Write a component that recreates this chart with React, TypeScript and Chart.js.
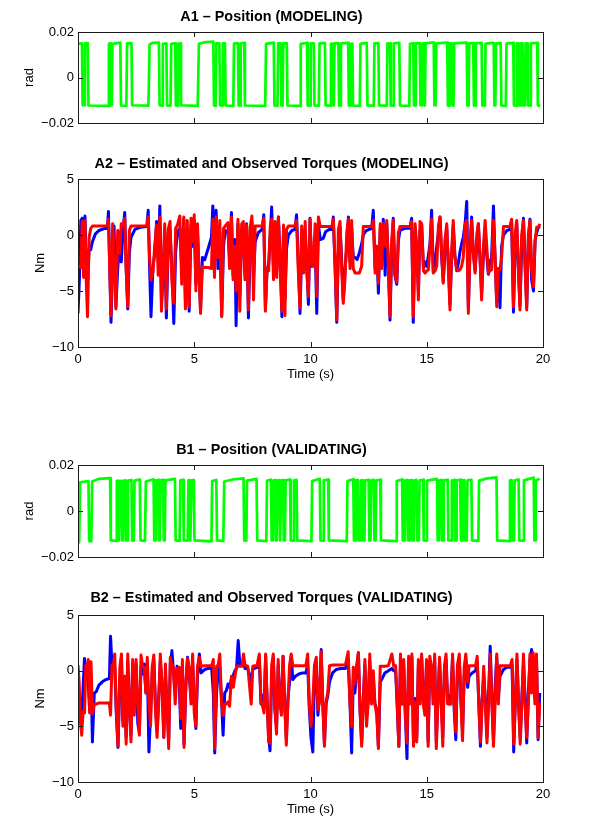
import React, { useEffect, useRef } from 'react';
import { Chart, registerables } from 'chart.js';

Chart.register(...registerables);

const FONT = '"Liberation Sans", Arial, Helvetica, sans-serif';

const TITLES = [
  'A1 \u2013 Position (MODELING)',
  'A2 \u2013 Estimated and Observed Torques (MODELING)',
  'B1 \u2013 Position (VALIDATING)',
  'B2 \u2013 Estimated and Observed Torques (VALIDATING)',
];
const X_TITLE = 'Time (s)';
const POS_UNIT = 'rad';
const TORQUE_UNIT = 'Nm';

// [time (s), position (rad)]
const A1_POSITION: number[][] = [
  [0.00,0.0148],[0.17,0.0150],[0.20,-0.0122],[0.27,-0.0122],[0.30,0.0150],[0.42,0.0151],[0.45,-0.0123],
  [1.30,-0.0125],[1.33,0.0148],[1.38,0.0150],[1.41,-0.0122],[1.45,-0.0123],[1.48,0.0148],[1.82,0.0153],[1.85,-0.0123],
  [2.08,-0.0125],[2.11,0.0150],[2.30,0.0151],[2.33,-0.0122],
  [3.03,-0.0124],[3.08,0.0145],[3.20,0.0152],[3.48,0.0153],[3.51,-0.0122],
  [3.62,-0.0124],[3.65,0.0148],[3.80,0.0150],[3.83,-0.0123],
  [3.98,-0.0124],[4.01,0.0148],[4.18,0.0150],[4.21,-0.0123],
  [4.27,-0.0124],[4.30,0.0148],[4.40,0.0150],[4.43,-0.0122],
  [5.15,-0.0125],[5.20,0.0148],[5.50,0.0156],[5.82,0.0158],[5.85,-0.0123],
  [5.92,-0.0124],[5.95,0.0150],[6.08,0.0150],[6.11,-0.0122],
  [6.20,-0.0124],[6.23,0.0150],[6.32,0.0150],[6.35,-0.0123],
  [6.68,-0.0125],[6.71,0.0149],[6.88,0.0151],[6.91,-0.0123],
  [6.97,-0.0124],[7.00,0.0150],[7.15,0.0152],[7.18,-0.0123],
  [8.05,-0.0125],[8.09,0.0148],[8.42,0.0153],[8.45,-0.0123],
  [8.58,-0.0125],[8.61,0.0150],[8.72,0.0150],[8.75,-0.0123],
  [8.80,-0.0124],[8.83,0.0150],[8.98,0.0151],[9.01,-0.0123],
  [9.55,-0.0125],[9.58,0.0148],[9.85,0.0152],[9.88,-0.0123],
  [9.98,-0.0124],[10.01,0.0150],[10.14,0.0150],[10.17,-0.0123],
  [10.36,-0.0124],[10.39,0.0150],[10.62,0.0152],[10.65,-0.0123],
  [10.85,-0.0124],[10.88,0.0148],[10.92,0.0149],[10.95,-0.0122],
  [11.00,-0.0123],[11.03,0.0150],[11.20,0.0151],[11.23,-0.0123],
  [11.28,-0.0124],[11.31,0.0150],[11.62,0.0152],[11.65,-0.0123],
  [11.72,-0.0124],[11.75,0.0148],[11.80,0.0149],[11.83,-0.0123],
  [12.12,-0.0125],[12.15,0.0148],[12.42,0.0152],[12.45,-0.0123],
  [12.72,-0.0124],[12.75,0.0150],[12.92,0.0151],[12.95,-0.0123],
  [13.28,-0.0124],[13.31,0.0150],[13.42,0.0150],[13.45,-0.0123],
  [13.55,-0.0124],[13.58,0.0150],[13.82,0.0152],[13.85,-0.0123],
  [14.25,-0.0125],[14.28,0.0148],[14.42,0.0150],[14.45,-0.0123],
  [14.50,-0.0123],[14.53,0.0150],[14.70,0.0151],[14.73,-0.0122],
  [14.78,-0.0123],[14.81,0.0149],[14.85,0.0150],[14.88,-0.0122],
  [14.92,-0.0123],[14.95,0.0150],[15.30,0.0154],[15.33,-0.0122],
  [15.38,-0.0123],[15.41,0.0150],[15.88,0.0153],[15.91,-0.0123],
  [15.96,-0.0124],[15.99,0.0150],[16.08,0.0150],[16.11,-0.0123],
  [16.15,-0.0124],[16.18,0.0150],[16.72,0.0153],[16.75,-0.0123],
  [16.80,-0.0124],[16.83,0.0150],[17.00,0.0151],[17.03,-0.0123],
  [17.08,-0.0124],[17.11,0.0150],[17.36,0.0152],[17.39,-0.0123],
  [17.50,-0.0124],[17.53,0.0149],[17.88,0.0152],[17.91,-0.0123],
  [17.95,-0.0123],[17.98,0.0150],[18.18,0.0151],[18.21,-0.0123],
  [18.40,-0.0125],[18.43,0.0149],[18.72,0.0152],[18.75,-0.0123],
  [18.85,-0.0124],[18.88,0.0150],[18.95,0.0150],[18.98,-0.0123],
  [19.02,-0.0123],[19.05,0.0150],[19.12,0.0150],[19.15,-0.0123],
  [19.22,-0.0123],[19.25,0.0150],[19.32,0.0150],[19.35,-0.0123],
  [19.45,-0.0124],[19.48,0.0150],[19.75,0.0152],[19.78,-0.0123],
  [19.88,-0.0124],
];

// [time (s), observed torque (red), estimated torque (blue)] in Nm
const A2_TORQUE: number[][] = [
  [0.00,-2.8,-7.0],[0.06,-2.8,-4.0],[0.12,-2.9,1.3],[0.18,1.2,1.5],[0.24,-3.8,-2.8],[0.30,1.3,1.7],
  [0.36,-4.5,-3.0],[0.41,-7.3,-4.2],[0.48,-0.2,-1.2],[0.55,0.6,-1.3],[0.62,0.8,-0.6],[0.75,0.8,0.1],
  [0.90,0.8,0.4],[1.10,0.8,0.55],[1.26,0.8,0.6],[1.31,1.4,2.1],[1.36,-2.5,-2.5],[1.42,-7.2,-7.8],
  [1.49,1.0,-2.6],[1.55,-1.8,0.8],[1.63,-6.6,-6.4],[1.71,0.4,-3.0],[1.79,-1.6,-0.6],[1.86,1.0,-2.4],
  [1.94,0.9,0.5],[2.01,1.5,2.0],[2.07,-3.0,-2.8],[2.14,-6.4,-6.6],[2.21,0.4,-1.6],[2.28,0.8,-0.2],
  [2.45,0.8,0.5],[2.70,0.8,0.7],[2.96,0.8,0.75],[3.02,1.6,2.2],[3.08,-2.0,-3.0],[3.14,-4.0,-7.3],
  [3.22,-3.4,-3.0],[3.30,-1.0,-1.6],[3.38,0.9,1.2],[3.45,-3.6,-2.2],[3.52,1.6,2.6],[3.59,-6.8,-6.0],
  [3.66,-3.0,-4.0],[3.73,1.0,0.2],[3.80,-6.6,-7.4],[3.88,0.5,-1.0],[3.96,1.2,0.2],[4.04,-4.2,-3.0],
  [4.12,-6.1,-7.9],[4.20,0.6,-1.5],[4.28,0.9,0.3],[4.38,1.7,0.6],[4.46,-4.4,-2.8],[4.55,1.6,1.4],
  [4.62,-6.6,-6.0],[4.70,1.3,0.0],[4.78,-6.4,-6.8],[4.86,1.5,0.9],[4.93,-0.6,-1.0],[5.00,1.8,1.2],
  [5.07,-5.0,-4.4],[5.14,1.0,0.2],[5.20,-3.0,-3.2],[5.27,-7.0,-6.6],[5.35,-2.8,-2.0],[5.45,-2.9,-2.2],
  [5.60,-2.9,-1.2],[5.74,-3.0,-0.2],[5.80,1.4,2.6],[5.87,-3.8,-1.8],[5.94,1.6,2.2],[6.02,-2.0,-3.0],
  [6.10,1.3,0.2],[6.18,-7.3,-7.2],[6.26,0.6,-1.0],[6.33,0.8,0.4],[6.45,1.1,0.3],[6.52,-3.0,-2.2],
  [6.60,1.6,2.0],[6.67,-4.0,-3.6],[6.75,-1.0,-0.4],[6.80,-5.0,-8.1],[6.88,1.4,1.0],[6.96,-6.8,-5.4],
  [7.04,1.0,0.5],[7.11,1.2,0.2],[7.18,-4.0,-3.5],[7.25,0.9,1.0],[7.33,-6.7,-7.4],[7.40,0.6,-1.5],
  [7.48,1.7,1.2],[7.55,-5.8,-3.8],[7.62,0.8,-0.6],[7.75,0.8,0.2],[7.92,0.8,0.5],[7.99,1.5,1.8],
  [8.06,-6.8,-6.6],[8.13,-3.0,-3.2],[8.20,-3.2,-2.6],[8.27,0.8,0.0],[8.33,1.4,2.5],[8.41,-4.0,-3.0],
  [8.48,1.2,0.5],[8.55,-3.8,-3.2],[8.62,1.6,1.6],[8.70,-2.8,-2.4],[8.77,-6.8,-7.3],[8.84,0.9,0.2],
  [8.90,-7.2,-5.8],[8.97,0.5,-1.2],[9.05,0.8,0.0],[9.20,0.8,0.4],[9.33,0.8,0.5],[9.40,1.3,1.8],
  [9.47,-3.0,-2.0],[9.55,-6.5,-7.0],[9.62,0.8,-1.4],[9.70,-3.4,-2.8],[9.77,1.2,0.3],[9.84,-3.3,-2.6],
  [9.91,-5.5,-6.2],[9.98,1.4,1.5],[10.05,-2.6,-2.8],[10.12,-2.8,-1.8],[10.20,1.0,-1.0],[10.27,-5.5,-7.0],
  [10.34,1.6,0.9],[10.42,0.75,-0.4],[10.55,0.75,-0.3],[10.65,0.75,0.3],[10.80,0.75,0.5],[10.92,0.75,0.5],
  [10.98,1.4,1.6],[11.05,-2.0,-2.5],[11.13,-7.6,-7.8],[11.20,0.5,-1.5],[11.27,1.2,0.7],[11.34,-3.0,-2.2],
  [11.41,-6.1,-5.8],[11.48,-4.0,-3.3],[11.56,0.2,-1.0],[11.63,1.4,1.6],[11.70,-3.0,-2.4],[11.77,1.3,0.6],
  [11.84,-3.0,-2.0],[11.92,-3.4,-2.0],[12.00,-3.4,-2.2],[12.10,-3.4,-1.6],[12.20,-2.8,-0.8],[12.27,0.75,0.0],
  [12.40,0.75,0.4],[12.63,0.75,0.6],[12.70,1.3,2.2],[12.78,-3.4,-3.0],[12.85,-1.0,-1.0],[12.92,-4.3,-5.2],
  [13.00,1.0,0.5],[13.06,-3.0,-2.0],[13.13,1.0,1.4],[13.21,-1.0,-3.6],[13.28,1.3,1.0],[13.35,-3.0,-2.6],
  [13.42,-7.3,-7.6],[13.49,-0.5,-1.6],[13.56,1.3,1.5],[13.63,-3.5,-3.6],[13.71,-4.2,-4.4],[13.78,0.2,-0.5],
  [13.85,0.75,0.4],[14.05,0.75,0.6],[14.28,0.75,0.6],[14.35,1.2,1.5],[14.42,-7.3,-7.8],[14.50,1.0,0.3],
  [14.57,-1.0,-1.5],[14.64,-5.8,-5.0],[14.71,1.2,0.4],[14.78,1.0,1.0],[14.86,-3.2,-3.0],[14.93,-3.4,-2.4],
  [15.00,-3.2,-2.8],[15.07,-3.1,-1.8],[15.14,-1.0,-0.8],[15.21,1.4,2.2],[15.28,-3.4,-3.2],[15.36,-3.2,-2.4],
  [15.43,-2.8,-1.0],[15.50,0.8,0.2],[15.57,1.6,1.6],[15.64,-1.5,-2.0],[15.71,-4.3,-4.2],[15.78,-0.5,-1.6],
  [15.86,1.0,0.6],[15.93,-3.0,-2.5],[16.00,-6.7,-6.2],[16.07,-1.5,-2.0],[16.14,1.3,0.8],[16.21,-2.0,-1.8],
  [16.29,-3.1,-3.2],[16.36,-3.2,-2.5],[16.43,-3.1,-1.5],[16.50,-2.8,-0.8],[16.57,-2.0,-0.2],[16.65,1.0,1.0],
  [16.72,1.3,3.0],[16.79,-7.0,-6.6],[16.86,-1.0,-1.5],[16.93,1.3,1.6],[17.00,-1.5,-1.5],[17.08,-3.4,-3.2],
  [17.15,0.0,-1.0],[17.22,1.0,1.0],[17.29,-2.0,-2.0],[17.36,-5.8,-5.2],[17.44,-1.0,-1.6],[17.51,1.3,0.6],
  [17.58,-1.0,-1.8],[17.65,-3.4,-3.5],[17.72,-3.2,-2.4],[17.79,-3.1,-2.0],[17.87,1.3,2.6],[17.94,-2.0,-2.2],
  [18.01,-6.4,-6.0],[18.08,-3.0,-3.0],[18.15,-3.1,-6.5],[18.22,-2.0,-1.0],[18.30,0.75,0.0],[18.45,0.75,0.4],
  [18.58,0.75,0.5],[18.65,1.4,1.3],[18.73,-6.4,-6.9],[18.80,0.0,-1.0],[18.87,1.3,1.0],[18.94,-3.0,-3.0],
  [19.01,-6.7,-6.3],[19.08,0.0,-1.5],[19.16,1.3,1.5],[19.23,-3.0,-2.5],[19.30,-6.7,-6.4],[19.37,0.0,-0.5],
  [19.44,1.3,1.4],[19.51,-3.0,-4.0],[19.59,-4.6,-5.0],[19.66,-0.5,-0.5],[19.73,0.7,0.2],[19.80,0.7,0.7],
  [19.87,1.0,0.6],
];

// [time (s), position (rad)]
const B1_POSITION: number[][] = [
  [0.00,-0.0140],[0.05,-0.0135],[0.09,0.0125],[0.45,0.0130],[0.48,-0.0130],[0.57,-0.0132],[0.61,0.0128],[0.90,0.0140],[1.38,0.0143],[1.41,-0.0128],
  [1.64,-0.0130],[1.67,0.0130],[1.74,0.0132],[1.77,-0.0128],
  [1.80,-0.0128],[1.83,0.0130],[1.88,0.0132],[1.91,-0.0128],
  [1.95,-0.0128],[1.98,0.0132],[2.05,0.0133],[2.08,-0.0128],
  [2.12,-0.0128],[2.15,0.0132],[2.30,0.0135],[2.33,-0.0128],
  [2.40,-0.0129],[2.43,0.0132],[2.66,0.0137],[2.69,-0.0128],
  [2.88,-0.0130],[2.92,0.0128],[3.25,0.0138],[3.28,-0.0128],
  [3.32,-0.0128],[3.35,0.0133],[3.45,0.0135],[3.48,-0.0128],
  [3.52,-0.0128],[3.55,0.0133],[3.66,0.0135],[3.69,-0.0128],
  [3.73,-0.0128],[3.76,0.0133],[4.17,0.0140],[4.20,-0.0128],
  [4.37,-0.0130],[4.40,0.0133],[4.52,0.0135],[4.55,-0.0128],
  [4.72,-0.0129],[4.75,0.0133],[4.80,0.0134],[4.83,-0.0128],
  [4.86,-0.0128],[4.89,0.0133],[4.98,0.0135],[5.01,-0.0128],
  [5.74,-0.0132],[5.77,0.0130],[5.95,0.0135],[5.98,-0.0128],
  [6.25,-0.0130],[6.29,0.0128],[6.70,0.0138],[7.12,0.0142],[7.15,-0.0128],
  [7.24,-0.0129],[7.27,0.0132],[7.68,0.0140],[7.71,-0.0128],
  [8.10,-0.0131],[8.13,0.0132],[8.30,0.0136],[8.33,-0.0128],
  [8.38,-0.0128],[8.41,0.0133],[8.48,0.0134],[8.51,-0.0128],
  [8.55,-0.0128],[8.58,0.0133],[8.66,0.0134],[8.69,-0.0128],
  [8.72,-0.0128],[8.75,0.0133],[8.82,0.0134],[8.85,-0.0128],
  [8.90,-0.0128],[8.93,0.0133],[9.12,0.0137],[9.15,-0.0128],
  [9.26,-0.0129],[9.29,0.0133],[9.40,0.0135],[9.43,-0.0128],
  [10.04,-0.0131],[10.07,0.0130],[10.40,0.0140],[10.43,-0.0128],
  [10.54,-0.0129],[10.57,0.0133],[10.76,0.0137],[10.79,-0.0128],
  [11.56,-0.0131],[11.59,0.0130],[11.84,0.0138],[11.87,-0.0128],
  [11.92,-0.0128],[11.95,0.0133],[12.04,0.0135],[12.07,-0.0128],
  [12.14,-0.0128],[12.17,0.0133],[12.25,0.0134],[12.28,-0.0128],
  [12.32,-0.0128],[12.35,0.0133],[12.50,0.0136],[12.53,-0.0128],
  [12.58,-0.0128],[12.61,0.0133],[12.72,0.0135],[12.75,-0.0128],
  [12.80,-0.0128],[12.83,0.0133],[13.00,0.0136],[13.03,-0.0128],
  [13.68,-0.0131],[13.71,0.0130],[13.94,0.0137],[13.97,-0.0128],
  [14.05,-0.0128],[14.08,0.0133],[14.16,0.0134],[14.19,-0.0128],
  [14.24,-0.0128],[14.27,0.0133],[14.36,0.0135],[14.39,-0.0128],
  [14.44,-0.0128],[14.47,0.0133],[14.56,0.0135],[14.59,-0.0128],
  [14.66,-0.0128],[14.69,0.0133],[14.84,0.0136],[14.87,-0.0128],
  [14.98,-0.0129],[15.01,0.0132],[15.44,0.0140],[15.47,-0.0128],
  [15.52,-0.0128],[15.55,0.0133],[15.62,0.0134],[15.65,-0.0128],
  [15.70,-0.0128],[15.73,0.0133],[15.90,0.0136],[15.93,-0.0128],
  [16.05,-0.0128],[16.08,0.0133],[16.18,0.0135],[16.21,-0.0128],
  [16.26,-0.0128],[16.29,0.0133],[16.44,0.0136],[16.47,-0.0128],
  [16.52,-0.0128],[16.55,0.0133],[16.62,0.0134],[16.65,-0.0128],
  [16.72,-0.0128],[16.75,0.0133],[16.92,0.0136],[16.95,-0.0128],
  [17.22,-0.0130],[17.25,0.0132],[17.60,0.0142],[18.00,0.0146],[18.03,-0.0128],
  [18.55,-0.0131],[18.58,0.0133],[18.65,0.0134],[18.68,-0.0128],
  [18.75,-0.0128],[18.78,0.0133],[18.95,0.0137],[18.98,-0.0128],
  [19.15,-0.0129],[19.18,0.0133],[19.60,0.0145],[19.63,-0.0128],
  [19.66,-0.0128],[19.69,0.0133],[19.86,0.0140],
];

// [time (s), observed torque (red), estimated torque (blue)] in Nm
const B2_TORQUE: number[][] = [
  [0.00,0.5,-4.2],[0.05,-1.0,-3.0],[0.10,-4.5,-2.5],[0.16,-5.8,-4.5],[0.22,-3.6,-1.5],[0.28,-3.8,1.1],
  [0.34,0.5,0.0],[0.40,0.3,0.2],[0.44,1.0,-1.0],[0.50,-3.8,-3.5],[0.56,0.8,-0.5],[0.62,-3.9,-6.4],
  [0.70,-3.0,-2.0],[0.78,-3.0,-1.9],[0.90,-2.9,-1.3],[1.05,-2.9,-1.0],[1.20,-2.9,-0.8],[1.35,-2.9,-0.7],
  [1.40,-4.0,3.1],[1.46,0.5,0.5],[1.52,0.4,0.5],[1.58,1.5,0.3],[1.64,-3.0,-3.5],[1.72,-6.8,-6.9],
  [1.80,0.3,-1.0],[1.87,1.5,1.2],[1.93,-5.0,-4.5],[2.00,-0.5,-0.5],[2.07,-6.6,-6.0],[2.14,1.5,0.8],
  [2.21,-3.5,-3.5],[2.28,-6.4,-5.8],[2.35,1.0,0.5],[2.42,-4.0,-3.2],[2.50,1.0,0.6],[2.57,-3.2,-4.7],
  [2.64,-5.8,-5.6],[2.71,1.4,0.4],[2.78,0.4,-0.3],[2.85,0.3,0.6],[2.92,-2.0,-2.0],[2.98,1.2,0.6],
  [3.05,-3.0,-7.3],[3.12,-5.0,-4.0],[3.19,0.3,-0.3],[3.26,1.4,1.0],[3.33,-3.5,-3.0],[3.40,-6.0,-5.4],
  [3.47,-3.0,-2.5],[3.54,1.5,0.8],[3.62,-1.5,-1.5],[3.69,-6.0,-6.0],[3.76,0.6,-0.6],[3.83,-3.2,-3.0],
  [3.90,-7.0,-6.3],[3.97,1.2,0.6],[4.04,0.5,1.8],[4.10,0.3,0.0],[4.18,-3.0,-2.0],[4.26,0.2,0.4],
  [4.35,0.3,-1.0],[4.42,-4.3,-5.2],[4.49,1.0,0.3],[4.56,-6.9,-6.6],[4.64,-1.0,-1.4],[4.71,1.1,1.2],
  [4.78,0.3,-0.3],[4.86,-3.0,-2.5],[4.93,1.5,0.8],[5.00,-3.8,-3.0],[5.07,-5.0,-5.2],[5.14,0.4,-0.5],
  [5.22,1.2,1.5],[5.29,0.4,-0.2],[5.45,0.45,0.1],[5.60,0.45,0.2],[5.75,0.45,0.25],[5.82,1.0,-2.0],
  [5.88,-7.0,-7.4],[5.96,0.4,-2.0],[6.03,0.5,0.0],[6.10,1.5,0.3],[6.17,-2.8,-2.5],[6.24,-4.0,-5.8],
  [6.31,-3.0,-2.0],[6.38,-3.0,-1.8],[6.45,-2.8,-1.2],[6.52,-3.2,-1.5],[6.60,-0.5,-0.7],[6.68,-1.5,-0.4],
  [6.75,-0.5,0.0],[6.82,0.4,0.2],[6.89,0.4,2.7],[6.96,0.4,0.6],[7.05,0.4,0.5],[7.12,1.5,0.8],
  [7.18,0.5,0.2],[7.30,0.4,0.2],[7.45,-3.0,-1.0],[7.52,0.4,0.2],[7.60,0.45,0.2],[7.70,0.45,0.3],
  [7.80,1.5,1.0],[7.87,-2.8,-3.0],[7.94,-3.2,-2.2],[8.00,-3.8,-3.5],[8.07,1.5,1.3],[8.14,-3.0,-3.0],
  [8.20,-6.4,-6.0],[8.26,-6.5,-7.2],[8.33,0.5,-0.5],[8.40,1.5,1.2],[8.47,-3.5,-3.5],[8.54,-5.7,-5.0],
  [8.61,1.0,0.5],[8.68,-3.0,-2.5],[8.75,-4.0,-3.5],[8.82,1.3,1.3],[8.89,-3.0,-3.0],[8.96,-6.7,-6.0],
  [9.03,-2.8,-2.5],[9.10,0.5,-1.0],[9.17,1.5,1.3],[9.24,0.45,-0.8],[9.35,0.45,-0.5],[9.50,0.45,-0.3],
  [9.65,0.45,-0.2],[9.80,0.45,-0.2],[9.88,1.5,0.5],[9.95,-3.0,-3.5],[10.02,-5.0,-6.0],[10.10,-2.8,-7.3],
  [10.17,0.5,-0.3],[10.25,1.2,0.2],[10.32,-3.5,-4.0],[10.39,-2.8,-2.0],[10.46,1.7,1.9],[10.53,-3.0,-3.0],
  [10.60,-6.8,-6.6],[10.67,-2.8,-3.0],[10.74,-2.0,-2.3],[10.82,0.45,-1.0],[10.95,0.5,-0.2],[11.10,0.5,0.1],
  [11.30,0.5,0.2],[11.50,0.5,0.2],[11.62,1.7,1.0],[11.70,-3.0,-3.0],[11.77,-5.0,-7.4],[11.84,0.3,-0.8],
  [11.91,-1.2,-2.0],[11.98,0.4,0.0],[12.06,1.6,1.6],[12.13,-3.5,-3.5],[12.20,-6.8,-6.5],[12.27,-3.0,-2.5],
  [12.34,1.0,0.5],[12.41,-5.0,-4.0],[12.48,-3.0,-2.5],[12.55,1.5,0.8],[12.62,-3.0,-2.5],[12.70,0.0,-0.5],
  [12.77,-3.0,-3.0],[12.85,-4.0,-3.5],[12.92,-7.0,-6.8],[13.00,0.4,-1.0],[13.06,0.4,-0.8],[13.20,0.4,-0.2],
  [13.35,0.45,0.0],[13.50,1.5,0.2],[13.58,0.4,0.0],[13.66,0.45,0.0],[13.73,-3.0,-3.2],[13.80,-6.8,-6.8],
  [13.87,1.5,1.0],[13.94,-3.0,-3.0],[14.01,1.0,0.4],[14.08,-4.0,-4.0],[14.15,-6.5,-7.9],[14.22,1.3,0.5],
  [14.29,-3.0,-2.5],[14.36,1.5,1.2],[14.43,-6.8,-6.4],[14.50,-2.8,-2.5],[14.57,-6.4,-6.0],[14.64,1.0,0.5],
  [14.71,-3.0,-2.5],[14.78,1.5,1.2],[14.85,-3.0,-2.2],[14.92,-4.0,-3.5],[14.99,1.0,0.5],[15.06,-6.8,-6.4],
  [15.13,1.3,0.8],[15.20,0.4,-0.2],[15.27,-3.0,-2.0],[15.34,1.5,1.2],[15.41,-7.0,-6.4],[15.48,-3.0,-2.5],
  [15.55,1.2,0.8],[15.62,-2.8,-2.5],[15.69,-6.8,-6.0],[15.76,0.4,0.0],[15.83,1.5,1.0],[15.90,-3.0,-2.8],
  [15.97,-2.8,-3.0],[16.04,-3.0,-2.0],[16.11,1.5,1.2],[16.18,-3.0,-3.5],[16.25,-5.5,-6.2],[16.32,0.5,0.0],
  [16.40,1.5,1.0],[16.47,-3.0,-2.5],[16.54,-6.3,-5.5],[16.61,0.3,-0.5],[16.68,1.5,1.0],[16.76,-1.0,-1.5],
  [16.82,0.45,-0.5],[16.95,0.45,-0.2],[17.10,0.45,0.0],[17.17,1.3,0.8],[17.24,-3.0,-3.0],[17.31,-6.4,-6.8],
  [17.38,-3.0,-2.5],[17.45,0.4,-0.5],[17.52,-3.0,-2.5],[17.59,-6.5,-6.0],[17.66,-3.0,-2.0],[17.73,1.5,2.2],
  [17.80,-2.8,-2.5],[17.87,-6.8,-6.2],[17.94,-3.0,-1.5],[18.01,1.5,1.2],[18.08,-3.0,-2.5],[18.15,0.45,-0.5],
  [18.30,0.45,0.1],[18.45,0.45,0.3],[18.60,0.45,0.3],[18.67,1.0,0.5],[18.74,-6.6,-7.3],[18.81,-3.0,-2.5],
  [18.88,1.5,1.0],[18.95,-3.0,-3.0],[19.02,-6.6,-6.0],[19.09,-3.0,-2.5],[19.16,1.5,0.8],[19.23,-3.0,-2.5],
  [19.30,-6.0,-6.5],[19.37,-3.0,-2.0],[19.44,1.5,1.0],[19.51,-2.0,1.9],[19.58,1.6,0.2],[19.65,-3.0,-2.5],
  [19.72,1.5,1.0],[19.79,-6.0,-6.2],[19.86,-2.9,-2.0],
];

const GREEN = '#00ff00';
const BLUE = '#0000ff';
const RED = '#ff0000';

function fmtPos(v: number): string {
  if (Math.abs(v) < 1e-9) return '0';
  return (v < 0 ? '\u2212' : '') + Math.abs(v).toFixed(2);
}
function fmtTorque(v: number): string {
  if (Math.abs(v) < 1e-9) return '0';
  return (v < 0 ? '\u2212' : '') + String(Math.abs(Math.round(v)));
}

const framePlugin = {
  id: 'matlabFrame',
  afterDatasetsDraw(chart: any) {
    const { ctx, chartArea } = chart;
    const { left, right, top, bottom } = chartArea;
    const xs = chart.scales.x;
    const ys = chart.scales.y;
    ctx.save();
    ctx.strokeStyle = '#1a1a1a';
    ctx.lineWidth = 1;
    ctx.beginPath();
    const L = 5;
    xs.ticks.forEach((t: any) => {
      const px = Math.round(xs.getPixelForValue(t.value)) + 0.5;
      ctx.moveTo(px, bottom);
      ctx.lineTo(px, bottom - L);
      ctx.moveTo(px, top);
      ctx.lineTo(px, top + L);
    });
    ys.ticks.forEach((t: any) => {
      const py = Math.round(ys.getPixelForValue(t.value)) + 0.5;
      ctx.moveTo(left, py);
      ctx.lineTo(left + L, py);
      ctx.moveTo(right, py);
      ctx.lineTo(right - L, py);
    });
    ctx.stroke();
    ctx.strokeRect(Math.round(left) + 0.5, Math.round(top) + 0.5, Math.round(right - left), Math.round(bottom - top));
    ctx.restore();
  },
};

type PanelProps = {
  top: number;
  height: number;
  title: string;
  titlePad: { top: number; bottom: number };
  yTitle: string;
  yTitlePad: number;
  yMin: number;
  yMax: number;
  yStep: number;
  fmt: (v: number) => string;
  showX: boolean;
  xAxisHeight: number;
  datasets: any[];
};

function Panel(p: PanelProps) {
  const ref = useRef<HTMLCanvasElement | null>(null);
  useEffect(() => {
    if (!ref.current) return;
    const tickFont = { family: FONT, size: 13 };
    const chart = new Chart(ref.current, {
      type: 'line',
      data: { datasets: p.datasets },
      plugins: [framePlugin],
      options: {
        responsive: false,
        maintainAspectRatio: false,
        animation: false,
        events: [],
        layout: { padding: { left: 0, right: 57, top: 0, bottom: 0 } },
        elements: { point: { radius: 0 }, line: { tension: 0 } },
        plugins: {
          legend: { display: false },
          tooltip: { enabled: false },
          title: {
            display: true,
            text: p.title,
            color: '#000',
            font: { family: FONT, size: 14.4, weight: 'bold', lineHeight: 1.2 },
            padding: p.titlePad,
          },
        },
        scales: {
          x: {
            type: 'linear',
            min: 0,
            max: 20,
            grid: { display: false, drawTicks: false },
            border: { display: false },
            ticks: {
              stepSize: 5,
              display: p.showX,
              padding: 5,
              color: '#000',
              font: tickFont,
              maxRotation: 0,
              callback: (v: any) => String(v),
            },
            title: {
              display: p.showX,
              text: X_TITLE,
              color: '#000',
              font: tickFont,
              padding: { top: 0, bottom: 18.2 },
            },
            afterFit: (s: any) => {
              s.height = p.xAxisHeight;
            },
          },
          y: {
            type: 'linear',
            min: p.yMin,
            max: p.yMax,
            grid: { display: false, drawTicks: false },
            border: { display: false },
            ticks: {
              stepSize: p.yStep,
              padding: 4,
              color: '#000',
              font: tickFont,
              callback: (v: any) => p.fmt(Number(v)),
            },
            title: {
              display: true,
              text: p.yTitle,
              color: '#000',
              font: tickFont,
              padding: { top: p.yTitlePad, bottom: 0 },
            },
            afterFit: (s: any) => {
              s.width = 78;
            },
          },
        },
      } as any,
    });
    return () => chart.destroy();
  }, []);
  return (
    <div style={{ position: 'absolute', left: 0, top: p.top, width: 600, height: p.height }}>
      <canvas ref={ref} width={600} height={p.height} style={{ display: 'block' }} />
    </div>
  );
}

function posDataset(rows: number[][]) {
  return {
    data: rows.map((r) => ({ x: r[0], y: r[1] })),
    borderColor: GREEN,
    borderWidth: 2.7,
    borderJoinStyle: 'round',
    pointRadius: 0,
    fill: false,
  };
}

function torqueDatasets(rows: number[][]) {
  return [
    {
      data: rows.map((r) => ({ x: r[0], y: r[1] })),
      borderColor: RED,
      borderWidth: 3,
      borderJoinStyle: 'round',
      pointRadius: 0,
      fill: false,
      order: 0,
    },
    {
      data: rows.map((r) => ({ x: r[0], y: r[2] })),
      borderColor: BLUE,
      borderWidth: 3,
      borderJoinStyle: 'round',
      pointRadius: 0,
      fill: false,
      order: 1,
    },
  ];
}

export default function App() {
  return (
    <div style={{ position: 'absolute', left: 0, top: 0, width: 600, height: 835, background: '#fff', overflow: 'hidden' }}>
      <Panel
        top={0}
        height={140}
        title={TITLES[0]}
        titlePad={{ top: 8.36, bottom: 6.36 }}
        yTitle={POS_UNIT}
        yTitlePad={21.2}
        yMin={-0.02}
        yMax={0.02}
        yStep={0.02}
        fmt={fmtPos}
        showX={false}
        xAxisHeight={17}
        datasets={[posDataset(A1_POSITION)]}
      />
      <Panel
        top={140}
        height={260}
        title={TITLES[1]}
        titlePad={{ top: 15.36, bottom: 6.36 }}
        yTitle={TORQUE_UNIT}
        yTitlePad={32.2}
        yMin={-10}
        yMax={5}
        yStep={5}
        fmt={fmtTorque}
        showX={true}
        xAxisHeight={53}
        datasets={torqueDatasets(A2_TORQUE)}
      />
      <Panel
        top={420}
        height={160}
        title={TITLES[2]}
        titlePad={{ top: 21.36, bottom: 6.36 }}
        yTitle={POS_UNIT}
        yTitlePad={21.2}
        yMin={-0.02}
        yMax={0.02}
        yStep={0.02}
        fmt={fmtPos}
        showX={false}
        xAxisHeight={23}
        datasets={[posDataset(B1_POSITION)]}
      />
      <Panel
        top={580}
        height={255}
        title={TITLES[3]}
        titlePad={{ top: 9.36, bottom: 8.36 }}
        yTitle={TORQUE_UNIT}
        yTitlePad={32.2}
        yMin={-10}
        yMax={5}
        yStep={5}
        fmt={fmtTorque}
        showX={true}
        xAxisHeight={53}
        datasets={torqueDatasets(B2_TORQUE)}
      />
    </div>
  );
}
